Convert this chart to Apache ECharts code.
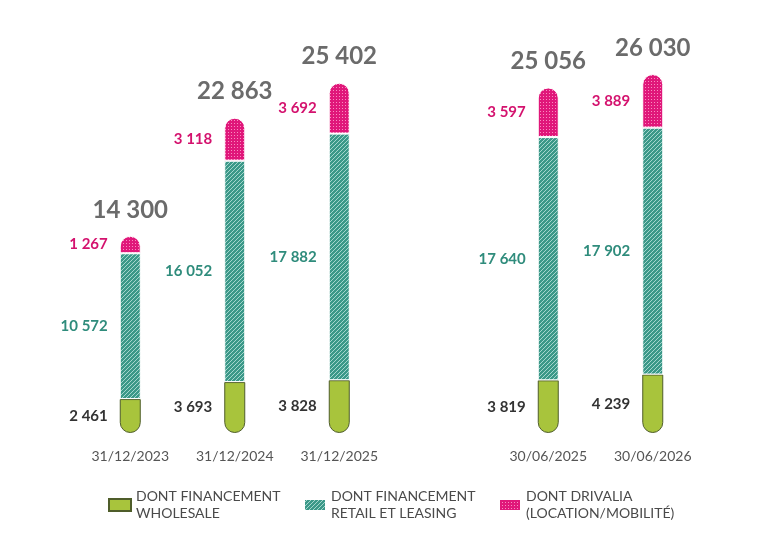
<!DOCTYPE html>
<html>
<head>
<meta charset="utf-8">
<script src="https://cdn.jsdelivr.net/npm/echarts@6/dist/echarts.min.js"></script>
<style>
  html, body { margin: 0; padding: 0; background: #fff; }
  #chart { width: 778px; height: 540px; }
</style>
</head>
<body>
<div id="chart"></div>
<script>
// données
var categories = ['31/12/2023', '31/12/2024', '31/12/2025', '', '30/06/2025', '30/06/2026'];
var wholesale = [2461, 3693, 3828, null, 3819, 4239];
var retail = [10572, 16052, 17882, null, 17640, 17902];
var drivalia = [1267, 3118, 3692, null, 3597, 3889];
var seriesNames = ['DONT FINANCEMENT\nWHOLESALE', 'DONT FINANCEMENT\nRETAIL ET LEASING', 'DONT DRIVALIA\n(LOCATION/MOBILITÉ)'];

var totals = categories.map(function (c, i) {
  return wholesale[i] == null ? null : wholesale[i] + retail[i] + drivalia[i];
});

function fmt(v) {
  return String(v).replace(/\B(?=(\d{3})+(?!\d))/g, ' ');
}

// motifs (hachures / points)
function hatch() {
  var s = 4, c = document.createElement('canvas');
  c.width = s; c.height = s;
  var ctx = c.getContext('2d');
  ctx.fillStyle = '#3b9888';
  ctx.fillRect(0, 0, s, s);
  ctx.strokeStyle = 'rgba(200,235,228,0.75)';
  ctx.lineWidth = 1;
  ctx.beginPath();
  ctx.moveTo(0, s); ctx.lineTo(s, 0);
  ctx.moveTo(-1, 1); ctx.lineTo(1, -1);
  ctx.moveTo(s - 1, s + 1); ctx.lineTo(s + 1, s - 1);
  ctx.stroke();
  return c;
}
function dots() {
  var s = 3, c = document.createElement('canvas');
  c.width = s; c.height = s;
  var ctx = c.getContext('2d');
  ctx.fillStyle = '#e0177a';
  ctx.fillRect(0, 0, s, s);
  ctx.fillStyle = 'rgba(255,170,210,0.8)';
  ctx.fillRect(0, 0, 1, 1);
  return c;
}

var chart = echarts.init(document.getElementById('chart'));

var segLabel = function (color) {
  return {
    show: true,
    position: 'left',
    distance: 12,
    color: color,
    fontFamily: 'Lato',
    fontWeight: 'bold',
    fontSize: 15,
    formatter: function (p) { return fmt(p.value); }
  };
};

var legendBase = {
  top: 483,
  icon: 'rect',
  itemWidth: 22,
  itemHeight: 12,
  itemGap: 0,
  textStyle: { fontFamily: 'Lato', fontSize: 14, color: '#4a4a4a', lineHeight: 17 },
  selectedMode: false
};

var option = {
  animation: false,
  grid: { left: 78, right: 73, top: 19.3, bottom: 107 },
  legend: [
    Object.assign({ left: 103, data: [seriesNames[0]] }, legendBase),
    Object.assign({ left: 298, data: [seriesNames[1]] }, legendBase),
    Object.assign({ left: 493, data: [seriesNames[2]] }, legendBase)
  ],
  xAxis: {
    type: 'category',
    data: categories,
    axisLine: { show: false },
    axisTick: { show: false },
    axisLabel: { margin: 16, fontFamily: 'Lato', fontSize: 14, color: '#555' }
  },
  yAxis: { type: 'value', min: 0, max: 30000, show: false },
  series: [
    {
      name: seriesNames[0],
      type: 'bar',
      stack: 'total',
      barWidth: 21,
      data: wholesale,
      itemStyle: { color: '#a8c43c', borderColor: '#4f5d2a', borderWidth: 1, borderRadius: [0, 0, 10, 10] },
      label: segLabel('#333')
    },
    {
      name: seriesNames[1],
      type: 'bar',
      stack: 'total',
      barWidth: 21,
      data: retail,
      itemStyle: { color: { image: hatch(), repeat: 'repeat' }, borderColor: '#fff', borderWidth: 1 },
      label: segLabel('#2f8c7c')
    },
    {
      name: seriesNames[2],
      type: 'bar',
      stack: 'total',
      barWidth: 21,
      data: drivalia,
      itemStyle: { color: { image: dots(), repeat: 'repeat' }, borderColor: '#fff', borderWidth: 1, borderRadius: [10, 10, 0, 0] },
      label: segLabel('#d4126e')
    },
    {
      name: 'total',
      type: 'bar',
      stack: 'total',
      barWidth: 21,
      data: totals.map(function (t) { return t == null ? null : 0; }),
      itemStyle: { color: 'transparent' },
      label: {
        show: true,
        position: 'top',
        distance: 14,
        color: '#6b6b6b',
        fontFamily: 'Lato',
        fontWeight: 'bold',
        fontSize: 24,
        formatter: function (p) { return totals[p.dataIndex] == null ? '' : fmt(totals[p.dataIndex]); }
      }
    }
  ]
};

chart.setOption(option);
</script>
</body>
</html>
